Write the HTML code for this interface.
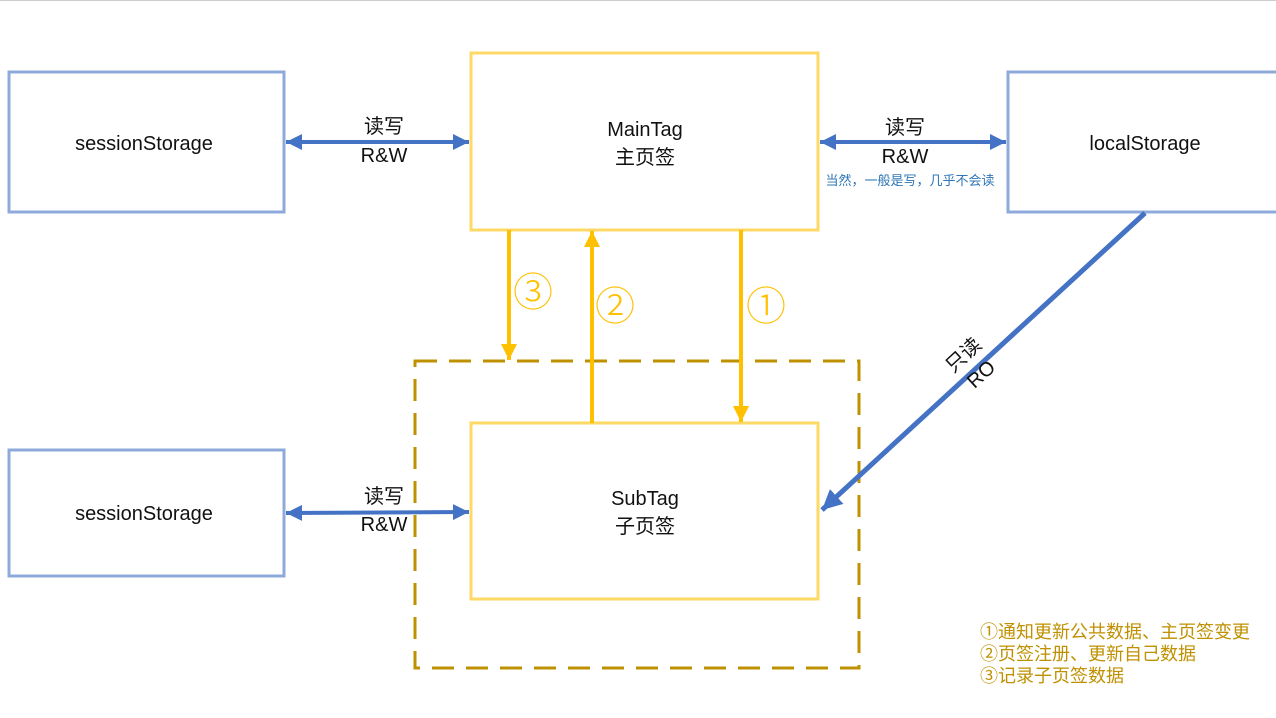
<!DOCTYPE html>
<html><head><meta charset="utf-8"><style>
html,body{margin:0;padding:0;background:#fff;}
svg{display:block;}
text{font-family:"Liberation Sans","Noto Sans CJK SC",sans-serif;}
</style></head><body>
<svg width="1276" height="718" viewBox="0 0 1276 718" xmlns="http://www.w3.org/2000/svg">
<defs>
<marker id="ab" markerWidth="4" markerHeight="4" refX="4" refY="2" orient="auto-start-reverse" markerUnits="strokeWidth"><path d="M0,0 L4,2 L0,4 Z" fill="#4472c4"/></marker>
<marker id="ay" markerWidth="4" markerHeight="4" refX="4" refY="2" orient="auto" markerUnits="strokeWidth"><path d="M0,0 L4,2 L0,4 Z" fill="#ffc000"/></marker>
</defs>
<line x1="0" y1="0.5" x2="1276" y2="0.5" stroke="#ccc"/>
<rect x="9" y="72" width="275" height="140" fill="none" stroke="#8eaadb" stroke-width="3"/>
<rect x="9" y="450" width="275" height="126" fill="none" stroke="#8eaadb" stroke-width="3"/>
<rect x="1008" y="72" width="270" height="140" fill="none" stroke="#8eaadb" stroke-width="3"/>
<rect x="471" y="53" width="347" height="177" fill="none" stroke="#ffd966" stroke-width="3"/>
<rect x="471" y="423" width="347" height="176" fill="none" stroke="#ffd966" stroke-width="3"/>
<rect x="415" y="361" width="444" height="307" fill="none" stroke="#bf9000" stroke-width="3" stroke-dasharray="22,12"/>
<text x="144" y="150" font-size="20" text-anchor="middle" fill="#111">sessionStorage</text>
<text x="144" y="520" font-size="20" text-anchor="middle" fill="#111">sessionStorage</text>
<text x="1145" y="150" font-size="20" text-anchor="middle" fill="#111">localStorage</text>
<text x="645" y="136" font-size="20" text-anchor="middle" fill="#111">MainTag</text>
<text x="645" y="164" font-size="20" text-anchor="middle" fill="#111">主页签</text>
<text x="645" y="505" font-size="20" text-anchor="middle" fill="#111">SubTag</text>
<text x="645" y="533" font-size="20" text-anchor="middle" fill="#111">子页签</text>
<line x1="286" y1="142" x2="469" y2="142" stroke="#4472c4" stroke-width="4" marker-end="url(#ab)" marker-start="url(#ab)"/>
<line x1="286" y1="513" x2="469" y2="512" stroke="#4472c4" stroke-width="4" marker-end="url(#ab)" marker-start="url(#ab)"/>
<line x1="820" y1="142" x2="1006" y2="142" stroke="#4472c4" stroke-width="4" marker-end="url(#ab)" marker-start="url(#ab)"/>
<line x1="1145" y1="213" x2="822" y2="510" stroke="#4472c4" stroke-width="5" marker-end="url(#ab)"/>
<text x="384" y="133" font-size="20" text-anchor="middle" fill="#111">读写</text>
<text x="384" y="162" font-size="20" text-anchor="middle" fill="#111">R&amp;W</text>
<text x="384" y="503" font-size="20" text-anchor="middle" fill="#111">读写</text>
<text x="384" y="531" font-size="20" text-anchor="middle" fill="#111">R&amp;W</text>
<text x="905" y="134" font-size="20" text-anchor="middle" fill="#111">读写</text>
<text x="905" y="163" font-size="20" text-anchor="middle" fill="#111">R&amp;W</text>
<text x="910" y="185" font-size="13" text-anchor="middle" fill="#2e75b6">当然，一般是写，几乎不会读</text>
<g transform="translate(968,360) rotate(-42.6)">
<text x="0" y="0" font-size="20" text-anchor="middle" fill="#111">只读</text>
<text x="0" y="26" font-size="20" text-anchor="middle" fill="#111">RO</text>
</g>
<line x1="509" y1="230" x2="509" y2="360" stroke="#ffc000" stroke-width="4" marker-end="url(#ay)"/>
<line x1="592" y1="423" x2="592" y2="231" stroke="#ffc000" stroke-width="4" marker-end="url(#ay)"/>
<line x1="741" y1="230" x2="741" y2="422" stroke="#ffc000" stroke-width="4" marker-end="url(#ay)"/>
<text x="533" y="306" font-size="40" font-weight="300" text-anchor="middle" fill="#ffc000">③</text>
<text x="615" y="320" font-size="40" font-weight="300" text-anchor="middle" fill="#ffc000">②</text>
<text x="766" y="320" font-size="40" font-weight="300" text-anchor="middle" fill="#ffc000">①</text>
<text x="980" y="638" font-size="18" fill="#bf9000">①通知更新公共数据、主页签变更</text>
<text x="980" y="660" font-size="18" fill="#bf9000">②页签注册、更新自己数据</text>
<text x="980" y="682" font-size="18" fill="#bf9000">③记录子页签数据</text>
</svg>
</body></html>
